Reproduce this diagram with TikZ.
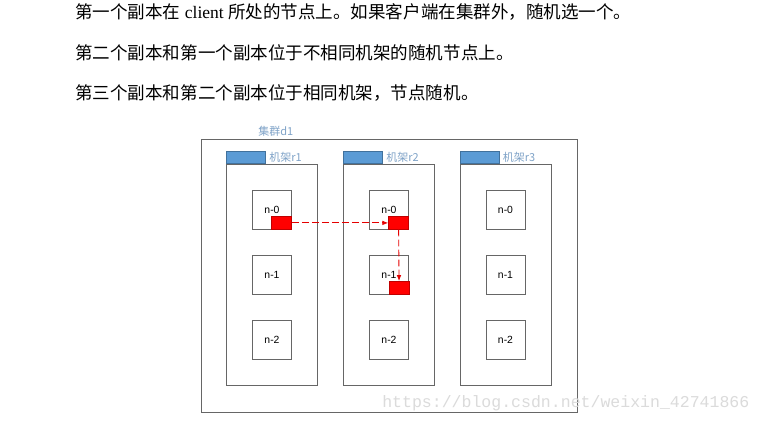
\documentclass[tikz,border=0pt]{standalone}
\usepackage{fontspec}
\setmainfont{Liberation Serif}
\newfontfamily\cjk{Noto Sans CJK SC}
\newfontfamily\nodefont{Liberation Sans}
\newfontfamily\wmfont{Liberation Mono}
\usetikzlibrary{arrows.meta}
\definecolor{linegray}{HTML}{666666}
\definecolor{tabblue}{HTML}{5B9BD5}
\definecolor{tabedge}{HTML}{41719C}
\definecolor{labelblue}{HTML}{7FA3C8}
\tikzset{
  remark/.style={anchor=base west, inner sep=0pt, font=\fontsize{13.15}{15}\selectfont},
  cluster/.style={draw=linegray, line width=0.75pt, minimum width=282pt, minimum height=204.75pt, inner sep=0pt},
  rack/.style={draw=linegray, line width=0.75pt, minimum width=68.25pt, minimum height=165.75pt, inner sep=0pt},
  racktab/.style={draw=tabedge, fill=tabblue, line width=0.6pt, anchor=south west, minimum width=29.25pt, minimum height=9.4pt, inner sep=0pt},
  racklabel/.style={anchor=west, inner sep=0pt, text=labelblue, font=\cjk\fontsize{8.25}{10}\selectfont},
  datanode/.style={draw=linegray, line width=0.7pt, minimum width=29.25pt, minimum height=28.9pt, inner sep=0pt, font=\nodefont\fontsize{7.8}{9}\selectfont},
  replica/.style={draw=red!75!black, fill=red, line width=0.5pt, anchor=south east, minimum width=15pt, minimum height=9.75pt, inner sep=0pt},
  copyarrow/.style={red!90!black, line width=0.65pt, dash pattern=on 5pt off 2.5pt, -{Latex[length=4.5pt,width=3.5pt]}}
}
\begin{document}
\begin{tikzpicture}[x=0.75pt,y=-0.75pt]
    \useasboundingbox (0,0) rectangle (762,422);
    \fill[white] (0,0) rectangle (762,422);

    % rules for placing the copies
    \node[remark] (line1) at (75,18) {{\cjk 第一个副本在} client {\cjk 所处的节点上。如果客户端在集群外，随机选一个。}};
    \node[remark] (line2) at (75,59) {\cjk 第二个副本和第一个副本位于不相同机架的随机节点上。};
    \node[remark] (line3) at (75,99) {\cjk 第三个副本和第二个副本位于相同机架，节点随机。};

    % cluster and racks
    \node[cluster] (d1) at (389,275.5) {};
    \node[racklabel] (d1label) at (258,131) {集群d1};
    \node[rack] (rack1) at (272,275) {};
    \node[rack] (rack2) at (389,275) {};
    \node[rack] (rack3) at (505.5,275) {};
    \node[racktab] (tab1) at (rack1.north west) {};
    \node[racktab] (tab2) at (rack2.north west) {};
    \node[racktab] (tab3) at (rack3.north west) {};
    \node[racklabel] (lab1) at ([xshift=2.5pt]tab1.east) {机架r1};
    \node[racklabel] (lab2) at ([xshift=2.5pt]tab2.east) {机架r2};
    \node[racklabel] (lab3) at ([xshift=2.5pt]tab3.east) {机架r3};

    % data nodes
    \node[datanode] (r1n0) at (272,210) {n-0};
    \node[datanode] (r1n1) at (272,275) {n-1};
    \node[datanode] (r1n2) at (272,340) {n-2};
    \node[datanode] (r2n0) at (389,210) {n-0};
    \node[datanode] (r2n1) at (389,275) {n-1};
    \node[datanode] (r2n2) at (389,340) {n-2};
    \node[datanode] (r3n0) at (505.5,210) {n-0};
    \node[datanode] (r3n1) at (505.5,275) {n-1};
    \node[datanode] (r3n2) at (505.5,340) {n-2};

    % replicas
    \node[replica] (copy1) at (r1n0.south east) {};
    \node[replica] (copy2) at (r2n0.south east) {};
    \node[replica] (copy3) at ([xshift=0.3pt]r2n1.south east) {};
    \draw[copyarrow] (copy1.east) -- (copy2.west);
    \draw[copyarrow] (copy2.south) -- (copy3.north);

    \node[anchor=west, inner sep=0pt, text=gray!28, font=\wmfont\fontsize{12.4}{14}\selectfont] (wm) at (382,403) {https://blog.csdn.net/weixin\_42741866};
\end{tikzpicture}
\end{document}
